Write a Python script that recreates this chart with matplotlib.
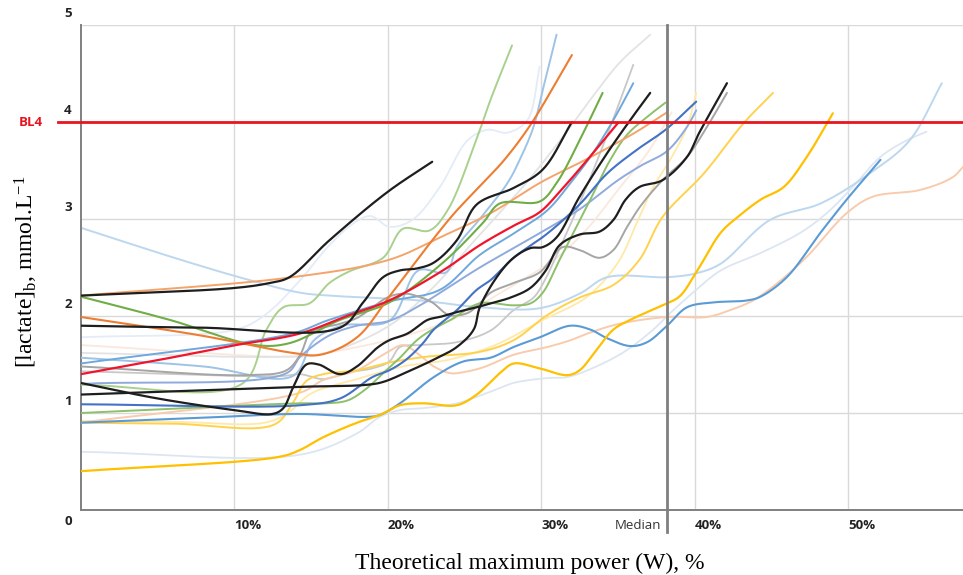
import numpy as np
import matplotlib
matplotlib.use("Agg")
import matplotlib.pyplot as plt

plt.rcParams['mathtext.fontset'] = 'custom'
plt.rcParams['mathtext.rm'] = 'Liberation Serif'
plt.rcParams['mathtext.it'] = 'Liberation Serif:italic'

# ---------------- data (x: % of theoretical max power, y: lactate mmol/L) -------------
black_a_x = [0, 10.1, 12.3, 13.6, 16.2, 20.0, 22.9]
black_a_y = [2.21, 2.29, 2.34, 2.40, 2.78, 3.28, 3.59]

orange_light_x = [0, 13.8, 20.1, 23.4, 26.7, 30.0, 33.0, 36.0, 38.2]
orange_light_y = [2.21, 2.40, 2.58, 2.81, 3.06, 3.38, 3.62, 3.88, 4.10]

green_x = [0, 5.8, 11.4, 13.6, 16.9, 20.1, 23.6, 26.2, 27.3, 29.9, 31.0, 32.5, 34.0]
green_y = [2.20, 1.96, 1.70, 1.72, 1.96, 2.14, 2.55, 2.96, 3.16, 3.18, 3.37, 3.81, 4.30]

orange_x = [0, 7.8, 13.8, 15.6, 18.0, 20.1, 22.9, 24.4, 26.2, 27.6, 29.3, 32.0]
orange_y = [1.99, 1.80, 1.62, 1.60, 1.78, 2.20, 2.78, 3.07, 3.37, 3.61, 3.97, 4.69]

black_b_x = [0, 7.8, 16.9, 18.4, 19.7, 20.8, 21.9, 23.0, 24.5, 25.8, 28.2, 30.1, 32.0]
black_b_y = [1.90, 1.88, 1.88, 2.14, 2.40, 2.47, 2.49, 2.55, 2.78, 3.15, 3.32, 3.51, 4.00]

red_x = [0, 5.2, 10.1, 14.3, 17.5, 20.1, 23.6, 26.0, 28.2, 29.9, 31.2, 32.9, 35.0]
red_y = [1.40, 1.55, 1.70, 1.82, 2.01, 2.16, 2.47, 2.73, 2.93, 3.07, 3.28, 3.59, 3.99]

lb1_x = [0, 6.5, 11.0, 14.3, 16.2, 22.1, 26.0, 29.9, 32.5, 34.3, 38.2, 40.1, 41.7, 44.9,
         48.2, 51.4, 54.0, 56.1]
lb1_y = [2.91, 2.58, 2.37, 2.24, 2.21, 2.16, 2.09, 2.08, 2.23, 2.40, 2.40, 2.44, 2.54, 2.99,
         3.16, 3.47, 3.81, 4.40]

black_c_x = [0, 5, 10, 12.5, 13.2, 13.8, 14.7, 15.5, 16.9, 18.0, 19.3, 20.1, 21.3, 22.6, 23.4,
             24.5, 25.8, 26.7, 28.0, 29.3, 30.3, 31.2, 32.5, 33.8, 34.7, 35.5, 36.4, 37.9,
             39.5, 40.3, 42.1]
black_c_y = [1.31, 1.15, 1.03, 0.99, 1.05, 1.25, 1.50, 1.50, 1.40, 1.48, 1.67, 1.75, 1.82, 1.96,
             1.99, 2.04, 2.09, 2.13, 2.19, 2.29, 2.47, 2.73, 2.84, 2.87, 2.99, 3.20, 3.33, 3.40,
             3.64, 3.89, 4.40]

black_d_x = [0, 14.3, 18.6, 19.7, 21.5, 23.0, 24.5, 25.6, 26.0, 27.1, 28.2, 29.3, 30.1, 31.0,
             32.5, 34.3, 35.8, 37.1]
black_d_y = [1.19, 1.27, 1.29, 1.32, 1.44, 1.55, 1.68, 1.86, 2.09, 2.40, 2.60, 2.70, 2.71, 2.81,
             3.23, 3.68, 4.02, 4.30]

gold_x = [0, 13.0, 14.3, 15.8, 18.0, 19.5, 20.8, 22.3, 24.5, 25.8, 27.3, 28.2, 29.9, 31.7,
          32.5, 33.6, 34.7, 35.8, 37.9, 39.0, 40.1, 41.7, 42.8, 44.3, 45.8, 47.3, 49.0]
gold_y = [0.40, 0.55, 0.62, 0.75, 0.90, 0.98, 1.08, 1.10, 1.08, 1.19, 1.41, 1.51, 1.46, 1.39,
          1.44, 1.65, 1.86, 1.96, 2.11, 2.20, 2.45, 2.86, 3.02, 3.20, 3.33, 3.64, 4.09]

blue2_x = [0, 7.8, 14.3, 18.7, 19.5, 20.8, 23.0, 24.9, 26.7, 28.2, 29.9, 31.9, 33.2, 34.3,
           35.8, 36.9, 38.2, 39.5, 41.2, 43.4, 44.3, 46.0, 48.2, 49.9, 52.1]
blue2_y = [0.90, 0.95, 0.99, 0.96, 0.98, 1.10, 1.37, 1.53, 1.57, 1.68, 1.78, 1.90, 1.86, 1.77,
           1.69, 1.73, 1.90, 2.09, 2.14, 2.16, 2.20, 2.40, 2.86, 3.20, 3.61]

peach_x = [0, 14.3, 15.8, 18.0, 19.7, 21.0, 21.9, 23.0, 24.1, 24.9, 26.2, 28.2, 30.4, 31.9,
           33.2, 35.1, 38.2, 40.8, 42.3, 43.8, 45.4, 47.3, 49.9, 51.6, 54.7, 56.8, 57.5]
peach_y = [0.90, 1.21, 1.34, 1.44, 1.60, 1.70, 1.62, 1.48, 1.41, 1.42, 1.47, 1.60, 1.68, 1.75,
           1.83, 1.92, 1.99, 1.99, 2.06, 2.16, 2.34, 2.61, 3.06, 3.23, 3.30, 3.43, 3.54]

light_green_x = [0, 10.5, 12.1, 13.2, 14.9, 16.2, 17.5, 19.7, 21.0, 22.7, 23.9, 25.6, 26.7, 28.1]
light_green_y = [1.29, 1.30, 1.86, 2.09, 2.13, 2.34, 2.46, 2.60, 2.90, 2.88, 3.09, 3.74, 4.23, 4.79]

pale_blue_x = [0, 10.1, 12.0, 14.3, 16.2, 17.9, 18.9, 20.1, 21.6, 23.4, 25.2, 26.5, 27.8, 29.1, 29.9]
pale_blue_y = [1.78, 1.86, 2.01, 2.37, 2.73, 2.97, 3.03, 2.92, 2.99, 3.33, 3.81, 3.92, 3.89, 4.02, 4.57]

lb2_x = [0, 8, 13.8, 15.2, 17, 20.1, 22.0, 23.8, 24.5, 26.0, 27.8, 28.6, 29.5, 30.1, 31.0]
lb2_y = [1.57, 1.48, 1.38, 1.75, 1.90, 1.95, 2.47, 2.45, 2.71, 3.00, 3.37, 3.61, 3.95, 4.33, 4.90]

lb3_x = [0, 13.8, 16, 20.1, 23.4, 26.0, 28.2, 30.4, 31.9, 33.2, 34.7, 36.0]
lb3_y = [1.51, 1.82, 1.95, 2.15, 2.27, 2.63, 2.85, 3.09, 3.37, 3.64, 4.02, 4.40]

dark_blue_x = [0, 14.3, 16.9, 19.0, 20.1, 21.2, 22.3, 23.0, 24.5, 25.8, 26.7, 28.2, 30.4, 32.5,
               34.3, 36.2, 38.1, 40.1]
dark_blue_y = [1.09, 1.08, 1.15, 1.37, 1.44, 1.55, 1.72, 1.86, 2.06, 2.27, 2.37, 2.60, 2.85, 3.15,
               3.47, 3.71, 3.92, 4.21]

mid_blue_x = [0, 13.4, 14.3, 16.2, 18.0, 20.1, 22.0, 24.0, 26.0, 28.2, 30.4, 32.5, 35.0, 36.5,
              38.2, 39.5, 40.1]
mid_blue_y = [1.30, 1.41, 1.58, 1.80, 1.90, 1.95, 2.10, 2.30, 2.50, 2.70, 2.90, 3.10, 3.40, 3.55,
              3.70, 3.95, 4.12]

gray_x = [0, 10.8, 13.4, 14.3, 15.0, 16.9, 18.0, 20.1, 21.2, 22.0, 22.9, 24.0, 25.2, 26.0, 26.7,
          28.2, 29.9, 31.4, 32.5, 33.8, 34.7, 35.6, 36.5, 37.9, 39.5, 40.8, 42.1]
gray_y = [1.48, 1.39, 1.44, 1.60, 1.83, 1.92, 1.98, 2.20, 2.23, 2.20, 2.14, 2.01, 2.03, 2.13, 2.24,
          2.34, 2.45, 2.71, 2.68, 2.60, 2.68, 2.92, 3.14, 3.40, 3.64, 3.95, 4.30]

green2_x = [0, 14.3, 16.0, 17.4, 18.6, 19.7, 20.8, 21.9, 22.8, 24.1, 26.0, 28.2, 29.3, 30.1, 31.2,
            33.2, 34.5, 35.6, 36.8, 38.1]
green2_y = [1.00, 1.10, 1.10, 1.13, 1.25, 1.41, 1.57, 1.75, 1.85, 1.96, 2.13, 2.11, 2.13, 2.24, 2.58,
            3.20, 3.61, 3.87, 4.04, 4.20]

yellow_x = [0, 6.0, 12.6, 13.8, 14.7, 15.8, 18.0, 20.1, 22.5, 26.0, 28.2, 30.4, 32.5, 34.7, 36.4,
            37.9, 40.6, 43.2, 45.1]
yellow_y = [0.90, 0.89, 0.88, 1.10, 1.33, 1.40, 1.44, 1.52, 1.58, 1.63, 1.75, 2.01, 2.19, 2.32, 2.58,
            3.02, 3.47, 3.99, 4.30]

pale_yellow_x = [0, 6.0, 12, 13.5, 15, 18, 21, 24, 27, 30, 33, 35, 36.2, 37.3, 38.4, 39.5, 40.1]
pale_yellow_y = [0.92, 0.91, 0.90, 1.00, 1.20, 1.35, 1.48, 1.55, 1.70, 1.95, 2.20, 2.55, 2.95, 3.33,
                 3.61, 3.95, 4.30]

pale_blue2_x = [0, 14.3, 18.0, 19.5, 20.8, 22.3, 24.5, 26.7, 28.2, 30.4, 31.7, 33.6, 35.5, 37.3,
                38.4, 40.1, 41.7, 44.3, 46.9, 48.6, 50.3, 52.1, 53.8, 55.1]
pale_blue2_y = [0.60, 0.57, 0.79, 0.96, 1.03, 1.05, 1.10, 1.22, 1.31, 1.36, 1.37, 1.48, 1.64, 1.86,
                2.03, 2.27, 2.47, 2.65, 2.86, 3.06, 3.33, 3.64, 3.81, 3.90]

pale_peach_x = [0, 14.3, 16, 20, 24, 28, 31, 33, 35, 37, 38.5]
pale_peach_y = [1.70, 1.58, 1.62, 1.75, 1.95, 2.30, 2.60, 2.90, 3.30, 3.70, 4.10]

pale_gray_x = [0, 13, 16, 20.1, 23, 25.5, 27.5, 28.8, 30.4, 31.9, 33.2, 35.1, 37.1]
pale_gray_y = [1.62, 1.58, 1.62, 1.90, 2.30, 2.75, 3.10, 3.33, 3.64, 3.95, 4.23, 4.61, 4.90]

light_gray_x = [0, 13, 14.3, 15.8, 17.5, 19.0, 20.1, 20.8, 22.0, 24.5, 26.7, 28.2, 29.5, 30.1,
                31.5, 33.0, 34.5, 36.0]
light_gray_y = [1.43, 1.38, 1.40, 1.35, 1.42, 1.46, 1.53, 1.68, 1.70, 1.73, 1.85, 2.06, 2.19, 2.33,
                2.80, 3.35, 3.95, 4.59]

x_ticks = [10, 20, 30, 40, 50]
x_tick_labels = ["10%", "20%", "30%", "40%", "50%"]
y_ticks = [0, 1, 2, 3, 4, 5]
median_x = 38.2
bl4_y = 4.0

# ---------------- helpers ----------------
SX, SY = 15.35, 97.0


def smooth(x, y, n=24):
    """Centripetal Catmull-Rom curve through the given points (drawing style only)."""
    P = np.column_stack([np.asarray(x, float) * SX, np.asarray(y, float) * SY])
    P = np.vstack([2 * P[0] - P[1], P, 2 * P[-1] - P[-2]])
    out = []
    for i in range(1, len(P) - 2):
        p0, p1, p2, p3 = P[i - 1], P[i], P[i + 1], P[i + 2]
        t0 = 0.0
        t1 = t0 + max(np.linalg.norm(p1 - p0), 1e-6) ** 0.5
        t2 = t1 + max(np.linalg.norm(p2 - p1), 1e-6) ** 0.5
        t3 = t2 + max(np.linalg.norm(p3 - p2), 1e-6) ** 0.5
        t = np.linspace(t1, t2, n, endpoint=False)[:, None]
        A1 = (t1 - t) / (t1 - t0) * p0 + (t - t0) / (t1 - t0) * p1
        A2 = (t2 - t) / (t2 - t1) * p1 + (t - t1) / (t2 - t1) * p2
        A3 = (t3 - t) / (t3 - t2) * p2 + (t - t2) / (t3 - t2) * p3
        B1 = (t2 - t) / (t2 - t0) * A1 + (t - t0) / (t2 - t0) * A2
        B2 = (t3 - t) / (t3 - t1) * A2 + (t - t1) / (t3 - t1) * A3
        C = (t2 - t) / (t2 - t1) * B1 + (t - t1) / (t2 - t1) * B2
        out.append(C)
    out.append(P[-2][None, :])
    out = np.vstack(out)
    return out[:, 0] / SX, out[:, 1] / SY


# ---------------- figure ----------------
W, H = 963, 575
fig = plt.figure(figsize=(W / 100, H / 100), dpi=100)
x0, x1, ytop, ybot = 80.7, 963, 25, 510
ax = fig.add_axes([x0 / W, (H - ybot) / H, (x1 - x0) / W, (ybot - ytop) / H])
xmax = (x1 - x0) / SX
ax.set_xlim(0, xmax)
ax.set_ylim(0, 5)

for s in ["top", "right"]:
    ax.spines[s].set_visible(False)
for s in ["left", "bottom"]:
    ax.spines[s].set_color("#808080")
    ax.spines[s].set_linewidth(1.4)
ax.set_xticks([])
ax.set_yticks([])

for v in x_ticks:
    ax.axvline(v, color="#D9D9D9", lw=1.0, zorder=0)
for v in [1, 2, 3, 5]:
    ax.axhline(v, color="#D9D9D9", lw=1.0, zorder=0)

series = [
    (pale_blue2_x, pale_blue2_y, "#DCE6F2", 1.3, 1),
    (pale_peach_x, pale_peach_y, "#FBE8DC", 1.3, 1),
    (pale_gray_x, pale_gray_y, "#E3E3E3", 1.3, 1),
    (pale_blue_x, pale_blue_y, "#E3ECF7", 1.3, 1),
    (pale_yellow_x, pale_yellow_y, "#FFE9A8", 1.3, 2),
    (light_gray_x, light_gray_y, "#C8C8C8", 1.3, 2),
    (lb1_x, lb1_y, "#BDD7EE", 1.4, 2),
    (peach_x, peach_y, "#F8CBAD", 1.4, 2),
    (light_green_x, light_green_y, "#A9D18E", 1.4, 3),
    (lb2_x, lb2_y, "#9DC3E6", 1.4, 3),
    (lb3_x, lb3_y, "#6FA8DC", 1.4, 3),
    (mid_blue_x, mid_blue_y, "#8FAADC", 1.4, 3),
    (yellow_x, yellow_y, "#FFD24D", 1.4, 3),
    (gray_x, gray_y, "#A5A5A5", 1.4, 3),
    (green2_x, green2_y, "#8CC06A", 1.4, 3),
    (orange_light_x, orange_light_y, "#F4A46A", 1.4, 4),
    (blue2_x, blue2_y, "#5B9BD5", 1.5, 4),
    (dark_blue_x, dark_blue_y, "#4472C4", 1.5, 4),
    (green_x, green_y, "#70AD47", 1.5, 4),
    (orange_x, orange_y, "#ED7D31", 1.5, 4),
    (gold_x, gold_y, "#FFC000", 1.6, 4),
    (red_x, red_y, "#F0142D", 1.6, 5),
    (black_a_x, black_a_y, "#1E1E1E", 1.6, 6),
    (black_b_x, black_b_y, "#1E1E1E", 1.6, 6),
    (black_c_x, black_c_y, "#1E1E1E", 1.6, 6),
    (black_d_x, black_d_y, "#1E1E1E", 1.6, 6),
]
for xs, ys, c, lw, z in series:
    sx, sy = smooth(xs, ys)
    ax.plot(sx, sy, color=c, lw=lw, zorder=z, solid_capstyle="round")

# BL4 threshold line (extends left of the axis)
ax.plot([-1.48, xmax], [bl4_y, bl4_y], color="#E8141E", lw=2.0, zorder=10, clip_on=False)
# Median line
ax.plot([median_x, median_x], [-0.23, 5], color="#7F7F7F", lw=2.0, zorder=9, clip_on=False)

tick_font = dict(family="Open Sans", fontsize=9.5, fontweight="bold", color="#222222")
for v, lab in zip(x_ticks, x_tick_labels):
    ax.text(v + 0.9, -0.155, lab, ha="center", va="center", clip_on=False, **tick_font)
ax.text(median_x - 0.4, -0.155, "Median", ha="right", va="center", family="Open Sans",
        fontsize=9.5, color="#333333", clip_on=False)
for v in y_ticks:
    yy = -0.12 if v == 0 else v + 0.12
    ax.text(-0.83, yy, str(v), ha="center", va="center", clip_on=False, **tick_font)
ax.text(-3.24, bl4_y, "BL4", ha="center", va="center", family="Open Sans", fontsize=9.5,
        fontweight="bold", color="#E8141E", clip_on=False)

fig.text(530 / W, (H - 563) / H, "Theoretical maximum power (W), %", ha="center", va="center",
         family="Liberation Serif", fontsize=17)
fig.text(26 / W, (H - 272) / H, r"[lactate]$_\mathrm{b}$, mmol.L$^{\mathrm{-1}}$", ha="center",
         va="center", rotation=90, family="Liberation Serif", fontsize=17)

fig.savefig("out.png", dpi=100)
